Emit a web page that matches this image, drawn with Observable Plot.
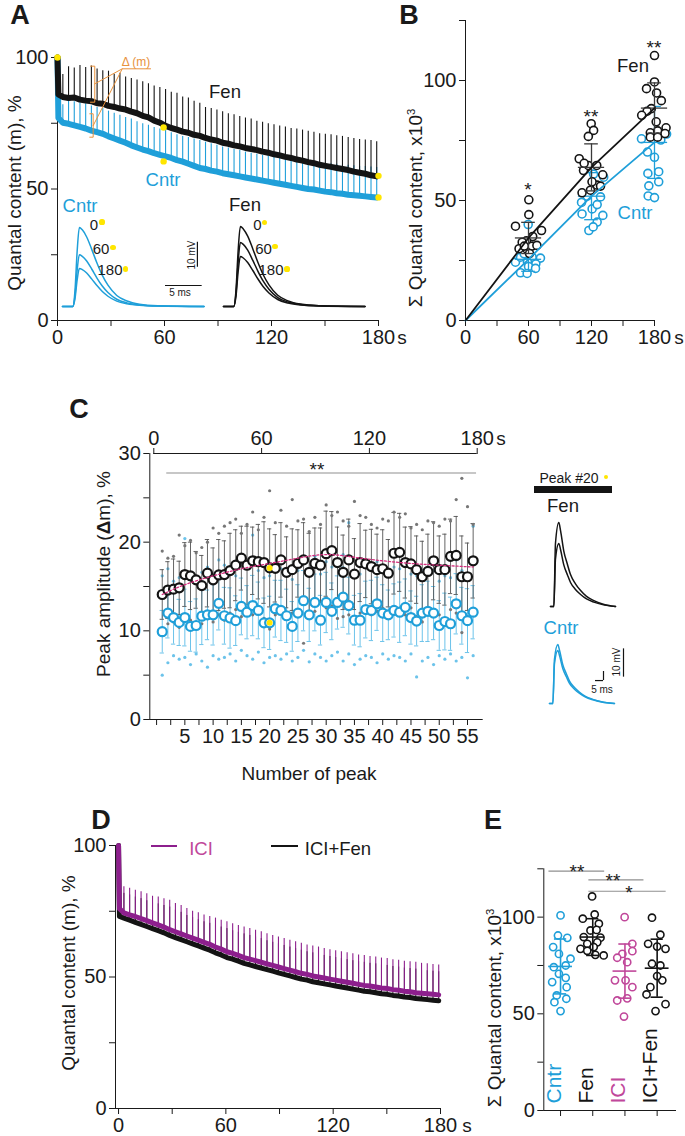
<!DOCTYPE html>
<html>
<head>
<meta charset="utf-8">
<script src="https://cdn.jsdelivr.net/npm/d3@7"></script>
<script src="https://cdn.jsdelivr.net/npm/@observablehq/plot@0.6"></script>
<style>
html,body{margin:0;padding:0;background:#fff;}
#fig{position:relative;width:685px;height:1136px;overflow:hidden;background:#fff;font-family:"Liberation Sans",Arial,Helvetica,sans-serif;color:#1a1a1a;}
#fig svg{overflow:visible;}
.t{position:absolute;white-space:nowrap;line-height:1;}
.t sup{font-size:60%;vertical-align:0.55em;}
</style>
</head>
<body>
<div id="fig"></div>
<script>
// ================= DATA =================
// Panels A and D: stimulation peaks (s) and quantal content (%)
const peakTimes = [3.0,6.2,9.4,12.6,15.8,19.0,22.2,25.4,28.6,31.8,35.0,38.2,41.4,44.6,47.8,51.0,54.2,57.4,60.6,63.8,67.0,70.2,73.4,76.6,79.8,83.0,86.2,89.4,92.6,95.8,99.0,102.2,105.4,108.6,111.8,115.0,118.2,121.4,124.6,127.8,131.0,134.2,137.4,140.6,143.8,147.0,150.2,153.4,156.6,159.8,163.0,166.2,169.4,172.6,175.8,179.0];
const startTimes = [0, 0.5];
const fenStartA = [100, 86];
const cntrStartA = [100, 77];
const fenBaseA = [85.0,84.6,84.8,84.0,83.6,83.4,82.6,82.4,81.6,81.2,80.6,80.2,79.4,78.8,77.8,77.2,76.0,75.2,74.0,73.2,72.6,71.8,71.4,70.6,70.2,69.4,68.8,68.4,67.6,67.2,66.6,66.2,65.6,65.2,64.8,64.2,63.8,63.2,62.8,62.2,61.8,61.2,60.8,60.2,59.8,59.2,58.8,58.4,58.0,57.6,57.2,56.6,56.2,55.8,55.2,54.8];
const fenPeakA = [93.5,96.5,96.0,97.0,96.2,96.8,95.6,95.0,94.8,93.6,94.0,92.6,92.0,91.4,90.8,90.0,89.2,88.6,87.8,86.8,86.4,85.0,84.6,83.4,82.6,81.0,80.6,80.0,79.4,78.6,78.2,77.6,77.0,76.6,75.8,75.4,74.8,74.4,74.0,73.6,73.0,72.8,72.4,72.0,71.6,71.0,70.8,70.6,70.2,70.0,69.6,69.2,68.8,68.6,68.4,68.0];
const cntrBaseA = [75.2,74.8,74.2,73.6,73.0,72.2,71.6,71.0,70.0,69.2,68.4,67.6,66.6,65.8,65.0,64.4,63.6,63.0,62.4,61.8,61.0,60.4,59.6,58.8,58.0,57.6,57.0,56.6,56.0,55.6,55.2,54.8,54.4,54.0,53.6,53.2,52.8,52.4,52.0,51.6,51.2,50.8,50.4,50.0,49.8,49.4,49.0,48.8,48.4,48.2,47.8,47.6,47.4,47.2,47.0,46.8];
const cntrPeakA = [82.0,83.6,83.2,82.8,82.4,81.6,81.0,80.6,79.6,78.8,78.0,77.2,76.6,75.6,74.8,74.2,73.4,72.8,72.2,71.4,70.6,70.0,69.6,69.0,68.4,67.8,67.2,66.6,66.0,65.6,65.0,64.6,64.0,63.6,63.2,62.8,62.6,62.2,61.8,61.4,61.0,60.8,60.6,60.2,60.0,59.8,59.6,59.6,59.4,59.2,59.0,58.8,58.6,58.6,58.4,58.2];
const yellowT = [0, 59.5, 59.5, 180, 180];
const yellowV = [100, 73.4, 60.5, 55.0, 46.8];

// Panel A insets: EPSP shape (ms, fraction of peak) and amplitudes (mV) at 0, 60, 180 s
const waveAms = [0,1.4,1.7,2.0,2.3,2.7,3.3,4.0,4.7,5.4,6.2,7.4,8.8,10.5,13.0,19.3];
const waveAfrac = [0,0,0.2,0.7,1.0,0.97,0.88,0.72,0.55,0.4,0.27,0.14,0.07,0.03,0.01,0];
const cntrInsetAmp = [31.6, 20.7, 15.2];
const fenInsetAmp = [32.0, 25.6, 20.0];
const insetLabels = ["0", "60", "180"];

// Panel B: cumulative quantal content (x10^3)
const bTimes = [0, 60, 120, 180];
const fenMeanB = [0, 34.4, 63.8, 88.5];
const fenSdB = [0, 6.5, 9.8, 10.5];
const cntrMeanB = [0, 25.5, 51.8, 74.2];
const cntrSdB = [0, 5.0, 9.8, 15.0];
const fenBx = [60.3,60.3,47.6,72.4,64.0,58.0,54.0,51.0,58.7,63.4,68.0,61.0,56.0, 119.7,122,117,108.3,112.4,117,125,130.7,111,119,125.4,120.5,128.6,113, 180,180,172.4,182,186.5,177,173,167.8,181.6,191,176,183,190,176,183];
const fenBy = [50.3,44.1,39.3,37.5,35.0,33.2,32.6,29.9,29.6,31.0,31.3,27.9,31.0, 82,79.2,76.7,67.4,62.5,64.6,64.6,60.7,53.2,54.3,56.4,57.8,56.0,65.5, 110.4,99.4,96.6,94.8,91.6,88.3,87.2,85.5,82.8,80.3,78.2,79.0,77.9,76.4,76.4];
const cntrBx = [59.7,47.6,52.4,63.5,71.4,59,67,60,52.4,58.7,66.7,55.9, 111,120.6,130.8,117.5,125.4,121.6,116,110.5,125.4,128.6,122,131.6, 167.6,173.3,180,191.5,186,173.7,184,174.6,184,174,180];
const cntrBy = [40,24.3,26.4,26.4,26.0,24.3,23.6,22.5,19.9,19.6,21.7,27.8, 44.4,46.5,43.8,37.5,41,39,51.8,49.2,48.3,51.5,61,59.7, 75.7,70.2,68,77.7,75.2,61.3,62,56.1,57.8,51.9,51.2];

// Panel C: peak amplitude (Δm, %) per peak number
const fenMeanC = [14.1,14.6,14.7,14.85,16.35,16.2,15.75,15.1,16.5,15.75,16.3,16.35,16.8,17.4,18.2,17.4,17.9,17.8,17.7,17.1,17.05,18.0,16.6,16.9,17.6,18.0,16.6,17.6,17.4,18.7,19.05,17.7,16.6,18.0,16.4,17.7,17.55,17.25,16.9,17.0,16.5,18.75,18.85,17.7,17.55,16.9,16.1,16.7,17.9,16.9,16.9,18.4,18.5,16.1,16.1,17.9];
const cntrMeanC = [9.9,12.0,11.5,10.95,11.5,10.5,10.6,11.65,11.8,11.8,13.1,11.7,11.45,11.15,12.75,12.1,12.85,12.3,10.9,10.9,12.5,12.3,11.7,10.5,12.0,13.4,11.8,13.2,11.2,13.2,12.2,13.2,13.8,12.85,11.2,11.2,12.4,12.3,13.05,12.0,11.8,12.3,12.1,12.65,11.5,11.1,12.0,12.2,12.0,10.6,11.05,10.8,13.05,11.7,11.15,12.1];
const fenSdC = [2.8,3.2,3.4,3.0,3.6,3.8,3.2,3.4,3.8,3.6,4.0,3.8,4.2,4.0,3.6,4.4,3.8,4.2,4.6,4.4,3.8,4.2,4.0,4.6,3.8,4.2,4.4,4.0,4.2,4.8,4.4,4.0,4.2,4.6,4.0,4.4,3.8,4.2,4.0,4.4,3.8,4.6,4.4,4.0,4.2,3.8,4.0,4.2,4.4,3.8,4.0,4.2,4.4,4.6,3.8,4.2];
const cntrSdC = [2.4,2.8,3.0,2.6,3.2,2.8,3.0,3.2,2.8,3.4,3.0,3.2,3.4,2.8,3.2,3.0,3.4,3.2,2.8,3.0,3.2,3.4,3.0,2.8,3.2,3.4,3.0,3.2,2.8,3.4,3.2,3.0,3.4,3.2,2.8,3.0,3.2,3.4,3.0,3.2,2.8,3.0,3.4,3.2,3.0,2.8,3.2,3.4,3.0,2.8,3.2,3.0,3.4,3.2,3.6,3.0];
const fenHiC = [19.0,18.2,18.4,20.8,19.6,20.2,18.8,19.4,20.0,21.6,21.0,21.8,22.2,22.6,21.0,22.0,23.4,21.4,22.8,25.8,22.2,23.6,21.8,24.8,22.4,22.6,21.2,22.8,22.0,24.2,23.0,23.4,22.4,21.8,24.6,23.0,22.8,22.0,21.6,22.6,22.4,23.4,22.8,23.2,21.6,22.0,21.4,22.4,22.2,21.8,22.6,22.4,24.8,27.2,24.0,22.0];
const fenLoC = [10.2,10.8,11.0,10.4,11.6,11.2,10.6,10.8,11.4,11.0,11.8,11.2,12.0,12.4,11.6,12.2,11.8,12.6,11.4,10.2,11.8,12.2,11.6,12.0,12.4,8.6,11.8,12.2,11.0,12.6,12.8,11.4,11.6,11.8,11.0,12.0,12.4,11.8,12.2,11.6,11.4,12.6,12.2,11.8,12.6,11.6,11.0,12.0,12.4,11.8,11.2,12.4,12.0,9.8,11.6,12.2];
const cntrHiC = [16.2,17.0,15.6,16.0,20.4,16.4,15.8,16.6,17.2,16.0,18.0,17.4,16.8,16.2,17.6,17.0,20.8,16.8,16.0,16.2,17.6,17.0,16.6,15.8,16.8,18.2,17.0,18.4,16.4,17.8,17.2,18.0,18.6,22.2,16.6,16.4,17.4,17.0,17.8,16.8,16.6,17.2,17.0,17.6,16.4,16.2,16.8,17.2,16.8,15.6,16.2,16.0,18.0,16.8,16.2,21.8];
const cntrLoC = [5.0,6.4,7.2,6.8,7.0,6.2,7.4,6.6,5.9,7.2,6.8,7.0,7.4,6.6,7.8,7.2,6.8,7.6,6.4,7.0,7.2,6.8,7.4,6.6,7.0,7.8,6.5,7.4,7.0,6.6,7.2,7.6,6.6,7.4,6.2,6.8,7.2,7.0,6.4,7.4,6.8,7.2,7.0,6.6,7.4,4.8,6.6,7.0,6.2,7.2,6.8,7.4,6.6,7.0,4.7,7.2];
const trendPeak = [1,5,10,15,20,25,30,35,40,45,50,56];
const trendFen = [14.1,15.2,16.2,17.0,17.6,18.2,18.6,18.3,17.9,17.6,17.4,17.2];
const highlightPeak = 20;
// Panel C inset (peak #20)
const waveCms = [0,2.1,3.1,5.2,6.3,8.3,10.6,12.5,15.6,18.8,22.5,27.1,32.5,40.6];
const waveCfrac = [0,0,0.75,1.0,0.9,0.66,0.5,0.38,0.27,0.19,0.12,0.07,0.03,0];
const fenAmpC = [29.7, 22.3];
const cntrAmpC = [20.8, 18.7];

// Panel D
const iciBase = [74.4,73.6,73.0,72.2,71.4,70.6,69.8,69.0,68.0,67.2,66.4,65.6,64.8,64.0,63.2,62.4,61.4,60.6,59.6,59.0,58.2,57.4,56.8,56.2,55.6,55.0,54.4,53.8,53.2,52.6,52.0,51.4,51.0,50.4,50.0,49.6,49.2,48.8,48.4,48.0,47.6,47.2,46.8,46.6,46.2,45.8,45.6,45.2,45.0,44.6,44.4,44.0,43.8,43.6,43.4,43.2];
const iciPeak = [84.3,83.7,83.0,82.4,81.7,80.7,80.4,79.8,79.2,77.9,77.2,76.0,75.0,74.4,73.6,73.0,72.4,71.6,71.0,70.2,69.6,69.0,68.4,67.8,67.2,66.4,65.8,65.2,64.6,64.0,63.4,62.8,62.2,61.8,61.4,60.8,60.4,60.0,59.6,59.2,58.8,58.4,58.2,57.8,57.6,57.2,57.0,56.6,56.4,56.0,55.8,55.6,55.2,55.0,54.8,54.6];
const iciFenBase = [72.4,71.6,70.8,70.0,69.2,68.4,67.6,66.8,65.8,65.0,64.2,63.4,62.6,61.8,61.0,60.2,59.2,58.4,57.4,56.8,56.0,55.2,54.6,54.0,53.4,52.8,52.2,51.6,51.0,50.4,49.8,49.2,48.8,48.2,47.8,47.4,47.0,46.6,46.2,45.8,45.4,45.0,44.6,44.4,44.0,43.6,43.4,43.0,42.8,42.4,42.2,41.8,41.6,41.4,41.2,41.0];
const iciFenPeak = [81.8,81.2,80.4,79.8,79.0,78.2,77.8,77.2,76.6,75.4,74.6,73.4,72.6,71.8,71.0,70.4,69.8,69.0,68.4,67.6,67.0,66.4,65.8,65.2,64.6,63.8,63.2,62.6,62.0,61.4,60.8,60.2,59.6,59.2,58.8,58.2,57.8,57.4,57.0,56.6,56.2,55.8,55.6,55.2,55.0,54.6,54.4,54.0,53.8,53.4,53.2,53.0,52.6,52.4,52.2,52.0];
const iciStart = [100, 76];
const iciFenStart = [100, 73];

// Panel E
const eCats = ["Cntr", "Fen", "ICI", "ICI+Fen"];
const eMean = [74.5, 89.7, 72.1, 73.6];
const eSd = [14.2, 9.5, 14.0, 15.0];
const eCntrVals = [100.9,90.5,89.3,84.5,81.0,78.5,75.0,74.1,70.7,68.6,66.4,63.8,59.5,57.8,56.0,51.4];
const eCntrJit  = [0,-0.08,0.21,-0.23,-0.05,0.31,0.16,-0.21,-0.05,0.16,-0.26,0.19,-0.12,0.18,-0.19,0];
const eFenVals = [110.7,99.2,101.4,96.6,93.1,93.4,89.7,89.4,86.2,87.0,83.6,84.5,80.2,82.6,80.5];
const eFenJit  = [-0.02,-0.31,0.06,0.19,-0.07,0.12,-0.28,0.24,-0.17,0.14,-0.38,0.03,0.34,-0.17,0.08];
const eIciVals = [100,86.2,82.4,81.0,76.7,67.3,67.3,63.8,56.9,58.0,48.6,79.0];
const eIciJit  = [-0.01,0.23,0.23,-0.08,0.07,-0.31,0.02,0.23,-0.24,0.07,-0.03,-0.24];
const eIciFenVals = [99.7,90.9,86.2,84.8,83.6,75.9,75.0,67.3,63.8,60.0,51.4,55.0,69.5];
const eIciFenJit  = [-0.16,0.10,-0.28,0.0,0.26,-0.16,0.1,0.16,-0.21,-0.33,-0.05,0.26,0.0];

// Tick values
const timeTicks = [0,30,60,90,120,150,180];
const pctTicks = [0,25,50,75,100];
const sumTicks = [0,25,50,75,100,125];
const ampTicks = [0,5,10,15,20,25,30];
const peakTicks = [0,2.5,5,7.5,10,12.5,15,17.5,20,22.5,25,27.5,30,32.5,35,37.5,40,42.5,45,47.5,50,52.5,55];

// ================= STYLE =================
const FONT = '"Liberation Sans", Arial, Helvetica, sans-serif';
const BLUE = "#1f9fd9";
const BLUE_LIGHT = "#6cc3ea";
const BLACK = "#141414";
const YELLOW = "#ffe600";
const ORANGE = "#e8923c";
const PURPLE = "#8d1f8d";
const ICI_PINK = "#c0479a";
const MAGENTA = "#d4307f";
const SIG = "#8f8f8f";
const baseStyle = {fontFamily: FONT, fontSize: "20px", color: "#1a1a1a", background: "transparent", overflow: "visible"};

const fig = document.getElementById("fig");
function place(node, left, top) {
  node.style.position = "absolute";
  node.style.left = left + "px";
  node.style.top = top + "px";
  fig.appendChild(node);
  return node;
}
function txt(html, x, y, o = {}) {
  const d = document.createElement("div");
  d.className = "t";
  d.innerHTML = html;
  d.style.left = x + "px";
  d.style.top = y + "px";
  d.style.fontSize = (o.size || 19) + "px";
  d.style.color = o.color || "#1a1a1a";
  if (o.lh) d.style.lineHeight = o.lh;
  if (o.bold) d.style.fontWeight = "bold";
  d.style.transform = "translate(-50%,-50%)" + (o.rot ? " rotate(" + o.rot + "deg)" : "");
  fig.appendChild(d);
}
// asterisks: compact line box so stacked significance marks do not collide
function star(s, x, y) { txt(s, x, y, {size: 19, lh: 0.5}); }
function ydot(x, y, r = 2.6) {
  const d = document.createElement("div");
  d.style.cssText = `position:absolute;left:${x - r}px;top:${y - r}px;width:${2*r}px;height:${2*r}px;border-radius:50%;background:${YELLOW};`;
  fig.appendChild(d);
}
function hbar(x, y, w, h, color) {
  const d = document.createElement("div");
  d.style.cssText = `position:absolute;left:${x}px;top:${y}px;width:${w}px;height:${h}px;background:${color};`;
  fig.appendChild(d);
}
const every60 = d => (d % 60 === 0 ? String(d) : "");
const every50 = d => (d % 50 === 0 ? String(d) : "");
const every10 = d => (d % 10 === 0 ? String(d) : "");
const every5 = d => (d > 0 && d % 5 === 0 ? String(d) : "");

function traceRows(startV, base) {
  return startTimes.map((t, i) => ({t, v: startV[i]})).concat(peakTimes.map((t, i) => ({t, v: base[i]})));
}
function spikeRows(base, peak) {
  return peakTimes.map((t, i) => ({t, base: base[i], peak: peak[i]}));
}
function wavePlot({ms, frac, amps, color, width, height, mL, mR, mT, mB, xMax, yMax, extra = []}) {
  const rows = amps.flatMap((a, k) => ms.map((m, i) => ({k, ms: m, mv: a * frac[i]})));
  return Plot.plot({
    width, height, marginLeft: mL, marginRight: mR, marginTop: mT, marginBottom: mB,
    style: baseStyle,
    x: {domain: [0, xMax], axis: null},
    y: {domain: [0, yMax], axis: null},
    marks: [Plot.line(rows, {x: "ms", y: "mv", z: "k", stroke: color, strokeWidth: 1.5, curve: "monotone-x"}), ...extra]
  });
}

// ================= PANEL A =================
const deltaAnno = [
  {id: 1, t: 18.5, v: 96.7}, {id: 1, t: 20.9, v: 96.7}, {id: 1, t: 20.9, v: 83.0}, {id: 1, t: 18.5, v: 83.0},
  {id: 2, t: 18.1, v: 78.6}, {id: 2, t: 20.0, v: 78.6}, {id: 2, t: 20.0, v: 69.7}, {id: 2, t: 18.1, v: 69.7},
  {id: 3, t: 52.2, v: 95.7}, {id: 3, t: 36.3, v: 95.7}, {id: 3, t: 20.9, v: 90.0},
  {id: 4, t: 36.3, v: 95.7}, {id: 4, t: 20.0, v: 74.1}
];
const plotA = Plot.plot({
  width: 400, height: 345, marginLeft: 57, marginRight: 22, marginTop: 57, marginBottom: 25,
  style: baseStyle,
  x: {domain: [0, 180], ticks: timeTicks, tickFormat: every60, label: null, line: true},
  y: {domain: [0, 100], ticks: pctTicks, tickFormat: every50, label: null, line: true},
  marks: [
    Plot.line(traceRows(cntrStartA, cntrBaseA), {x: "t", y: "v", stroke: BLUE, strokeWidth: 6, strokeLinejoin: "round"}),
    Plot.ruleX(spikeRows(cntrBaseA, cntrPeakA), {x: "t", y1: "base", y2: "peak", stroke: BLUE, strokeWidth: 1.1}),
    Plot.line(traceRows(fenStartA, fenBaseA), {x: "t", y: "v", stroke: BLACK, strokeWidth: 6, strokeLinejoin: "round"}),
    Plot.ruleX(spikeRows(fenBaseA, fenPeakA), {x: "t", y1: "base", y2: "peak", stroke: BLACK, strokeWidth: 1.1}),
    Plot.line(deltaAnno, {x: "t", y: "v", z: "id", stroke: ORANGE, strokeWidth: 1}),
    Plot.dot(yellowT.map((t, i) => ({t, v: yellowV[i]})), {x: "t", y: "v", r: 3.2, fill: YELLOW})
  ]
});
place(plotA, 0, 0);

const scaleBarA = [
  Plot.ruleX([{x: 18.4, y1: 15.7, y2: 25.7}], {x: "x", y1: "y1", y2: "y2", stroke: BLACK, strokeWidth: 1.2}),
  Plot.ruleY([{y: 8.4, x1: 14.05, x2: 19.05}], {y: "y", x1: "x1", x2: "x2", stroke: BLACK, strokeWidth: 1.2})
];
place(wavePlot({ms: waveAms, frac: waveAfrac, amps: cntrInsetAmp, color: BLUE, width: 150, height: 112, mL: 2, mR: 6.5, mT: 6, mB: 6, xMax: 19.3, yMax: 40, extra: scaleBarA}), 60, 200);
place(wavePlot({ms: waveAms, frac: waveAfrac, amps: fenInsetAmp, color: BLACK, width: 150, height: 112, mL: 2, mR: 6.5, mT: 6, mB: 6, xMax: 19.3, yMax: 40}), 221, 200);

txt("A", 20, 15, {size: 27, bold: true});
txt("Quantal content (m), %", 14, 193, {rot: -90});
txt("s", 402, 337, {size: 19});
txt("Fen", 225, 92, {size: 18.5});
txt("Cntr", 163, 180, {size: 18.5, color: BLUE});
txt("Δ (m)", 136, 62, {size: 12, color: ORANGE});
txt("Cntr", 80, 206, {size: 18.5, color: BLUE});
txt("Fen", 245, 205, {size: 18.5});
[[94, 224, 102, 222], [101, 248, 113, 247.5], [110, 269, 125.5, 269]].forEach((p, i) => { txt(insetLabels[i], p[0], p[1], {size: 15}); ydot(p[2], p[3]); });
[[257.5, 224, 264.5, 222.5], [263.5, 248, 275, 246.5], [271, 269, 287, 269]].forEach((p, i) => { txt(insetLabels[i], p[0], p[1], {size: 15}); ydot(p[2], p[3]); });
txt("10 mV", 191.5, 254.5, {size: 10, rot: -90});
txt("5 ms", 180, 293, {size: 10});

// ================= PANEL B =================
const bFen = fenBx.map((x, i) => ({x, y: fenBy[i]}));
const bCntr = cntrBx.map((x, i) => ({x, y: cntrBy[i]}));
const bFenM = bTimes.map((t, i) => ({t, m: fenMeanB[i], s: fenSdB[i]}));
const bCntrM = bTimes.map((t, i) => ({t, m: cntrMeanB[i], s: cntrSdB[i]}));
function errMarks(rows, color, capHalf, meanHalf, w) {
  const r = rows.filter(d => d.t > 0 || rows.length === 1);
  return [
    Plot.ruleX(r, {x: "t", y1: d => d.m - d.s, y2: d => d.m + d.s, stroke: color, strokeWidth: w}),
    Plot.ruleY(r, {y: d => d.m + d.s, x1: d => d.t - capHalf, x2: d => d.t + capHalf, stroke: color, strokeWidth: w}),
    Plot.ruleY(r, {y: d => d.m - d.s, x1: d => d.t - capHalf, x2: d => d.t + capHalf, stroke: color, strokeWidth: w}),
    Plot.ruleY(r, {y: "m", x1: d => d.t - meanHalf, x2: d => d.t + meanHalf, stroke: color, strokeWidth: w})
  ];
}
const plotB = Plot.plot({
  width: 285, height: 345, marginLeft: 65, marginRight: 31, marginTop: 20, marginBottom: 25,
  style: baseStyle,
  x: {domain: [0, 180], ticks: timeTicks, tickFormat: every60, label: null, line: true},
  y: {domain: [0, 125], ticks: sumTicks, tickFormat: every50, label: null, line: true},
  marks: [
    Plot.dot(bCntr, {x: "x", y: "y", r: 4, stroke: BLUE, strokeWidth: 1.6, fill: "white"}),
    ...errMarks(bCntrM, BLUE, 6.5, 12.5, 1.3),
    Plot.dot(bFen, {x: "x", y: "y", r: 4, stroke: BLACK, strokeWidth: 1.6, fill: "white"}),
    ...errMarks(bFenM, "#3a3a3a", 6.5, 12.5, 1.3),
    Plot.line(bCntrM, {x: "t", y: "m", stroke: BLUE, strokeWidth: 1.8}),
    Plot.line(bFenM, {x: "t", y: "m", stroke: BLACK, strokeWidth: 1.8})
  ]
});
place(plotB, 400, 0);
txt("B", 409, 15, {size: 27, bold: true});
txt("Σ Quantal content, x10<sup>3</sup>", 415, 208, {rot: -90});
txt("s", 679, 337, {size: 19});
star("*", 528, 190);
star("**", 591, 117);
star("**", 654, 48);
txt("Fen", 633, 66, {size: 18.5});
txt("Cntr", 635, 213, {size: 18.5, color: BLUE});

// ================= PANEL C =================
const cRows = fenMeanC.map((m, i) => ({
  n: i + 1, fm: m, fs: fenSdC[i], cm: cntrMeanC[i], cs: cntrSdC[i],
  fh: fenHiC[i], fl: fenLoC[i], ch: cntrHiC[i], cl: cntrLoC[i]
}));
const cap = 0.38;
const plotC = Plot.plot({
  width: 420, height: 340, marginLeft: 69.3, marginRight: 18.3, marginTop: 13, marginBottom: 61,
  style: baseStyle,
  x: {domain: [-1.2, 57.6], ticks: peakTicks, tickFormat: every5, label: null, line: true},
  y: {domain: [0, 30], ticks: ampTicks, tickFormat: every10, label: null, line: true},
  marks: [
    Plot.ruleX(cRows, {x: "n", y1: d => d.cm - d.cs, y2: d => d.cm + d.cs, stroke: BLUE_LIGHT, strokeWidth: 1}),
    Plot.ruleY(cRows, {y: d => d.cm + d.cs, x1: d => d.n - cap, x2: d => d.n + cap, stroke: BLUE_LIGHT, strokeWidth: 1}),
    Plot.ruleY(cRows, {y: d => d.cm - d.cs, x1: d => d.n - cap, x2: d => d.n + cap, stroke: BLUE_LIGHT, strokeWidth: 1}),
    Plot.dot(cRows, {x: "n", y: "ch", r: 1.6, fill: BLUE_LIGHT}),
    Plot.dot(cRows, {x: "n", y: "cl", r: 1.6, fill: BLUE_LIGHT}),
    Plot.ruleX(cRows, {x: "n", y1: d => d.fm - d.fs, y2: d => d.fm + d.fs, stroke: "#555", strokeWidth: 0.9}),
    Plot.ruleY(cRows, {y: d => d.fm + d.fs, x1: d => d.n - cap, x2: d => d.n + cap, stroke: "#555", strokeWidth: 0.9}),
    Plot.ruleY(cRows, {y: d => d.fm - d.fs, x1: d => d.n - cap, x2: d => d.n + cap, stroke: "#555", strokeWidth: 0.9}),
    Plot.dot(cRows, {x: "n", y: "fh", r: 1.6, fill: "#777"}),
    Plot.dot(cRows, {x: "n", y: "fl", r: 1.6, fill: "#777"}),
    Plot.dot(cRows, {x: "n", y: "cm", r: 4.5, stroke: BLUE, strokeWidth: 2.2, fill: "white"}),
    Plot.dot(cRows, {x: "n", y: "fm", r: 4.5, stroke: BLACK, strokeWidth: 2.2, fill: "white"}),
    Plot.line(trendPeak.map((n, i) => ({n, v: trendFen[i]})), {x: "n", y: "v", stroke: MAGENTA, strokeWidth: 1.3, strokeDasharray: "2,2", curve: "natural"}),
    Plot.dot(cRows.filter(d => d.n === highlightPeak), {x: "n", y: "fm", r: 3, fill: YELLOW}),
    Plot.dot(cRows.filter(d => d.n === highlightPeak), {x: "n", y: "cm", r: 3, fill: YELLOW}),
    Plot.ruleY([{y: 27.8, x1: 1.8, x2: 56.6}], {y: "y", x1: "x1", x2: "x2", stroke: SIG, strokeWidth: 1})
  ]
});
place(plotC, 80, 440);
const topAxis = Plot.plot({
  width: 420, height: 60, marginLeft: 73.3, marginRight: 23.3, marginTop: 33, marginBottom: 20,
  style: baseStyle,
  x: {domain: [0, 180], axis: "top", ticks: [0, 60, 120, 180], label: null},
  y: {domain: [0, 1], axis: null},
  marks: [Plot.ruleY([{y: 1, x1: 0, x2: 180}], {y: "y", x1: "x1", x2: "x2", stroke: "#1a1a1a", strokeWidth: 1})]
});
place(topAxis, 80, 420);
txt("C", 79, 409, {size: 27, bold: true});
txt("s", 501, 438, {size: 19});
star("**", 317, 470);
txt("Peak amplitude (<b>Δ</b>m), %", 103, 574, {rot: -90});
txt("Number of peak", 309, 773, {size: 19});
// inset
txt("Peak #20", 569, 478, {size: 14});
ydot(606, 477, 2.3);
hbar(534, 486, 78, 7, BLACK);
txt("Fen", 563, 506, {size: 18.5});
txt("Cntr", 561, 628, {size: 18.5, color: BLUE});
place(wavePlot({ms: waveCms, frac: waveCfrac, amps: fenAmpC, color: BLACK, width: 75, height: 95, mL: 2, mR: 8, mT: 6.1, mB: 4, xMax: 40.6, yMax: 30}), 548, 515);
const scaleBarC = [
  Plot.ruleX([{x: 46.25, y1: 9.3, y2: 19.3}], {x: "x", y1: "y1", y2: "y2", stroke: BLACK, strokeWidth: 1.2}),
  Plot.ruleY([{y: 8.1, x1: 28.75, x2: 33.75}], {y: "y", x1: "x1", x2: "x2", stroke: BLACK, strokeWidth: 1.2}),
  Plot.ruleX([{x: 33.75, y1: 8.1, y2: 11.3}], {x: "x", y1: "y1", y2: "y2", stroke: BLACK, strokeWidth: 1.2})
];
place(wavePlot({ms: waveCms, frac: waveCfrac, amps: cntrAmpC, color: BLUE, width: 90, height: 75, mL: 2, mR: 0, mT: 5.7, mB: 7, xMax: 55, yMax: 22, extra: scaleBarC}), 547, 635);
txt("10 mV", 617, 662, {size: 10, rot: -90});
txt("5 ms", 602, 690, {size: 10});

// ================= PANEL D =================
const plotD = Plot.plot({
  width: 400, height: 296, marginLeft: 55, marginRight: 20, marginTop: 5, marginBottom: 28,
  style: baseStyle,
  x: {domain: [-1.7, 180], ticks: timeTicks, tickFormat: every60, label: null, line: true},
  y: {domain: [0, 100], ticks: pctTicks, tickFormat: every50, label: null, line: true},
  marks: [
    Plot.line(traceRows(iciFenStart, iciFenBase), {x: "t", y: "v", stroke: BLACK, strokeWidth: 5, strokeLinejoin: "round"}),
    Plot.ruleX(spikeRows(iciFenBase, iciFenPeak), {x: "t", y1: "base", y2: "peak", stroke: BLACK, strokeWidth: 1}),
    Plot.line(traceRows(iciStart, iciBase), {x: "t", y: "v", stroke: PURPLE, strokeWidth: 5, strokeLinejoin: "round"}),
    Plot.ruleX(spikeRows(iciBase, iciPeak), {x: "t", y1: "base", y2: "peak", stroke: PURPLE, strokeWidth: 1.1})
  ]
});
place(plotD, 60, 840);
txt("D", 101, 820, {size: 27, bold: true});
txt("Quantal content (m), %", 68, 973, {rot: -90});
txt("s", 467, 1125, {size: 19});
hbar(151, 845, 26, 2, PURPLE);
txt("ICI", 201, 849, {size: 18.5, color: ICI_PINK});
hbar(271, 845, 27, 2, BLACK);
txt("ICI+Fen", 338, 849, {size: 18.5});

// ================= PANEL E =================
const eGroups = [
  {vals: eCntrVals, jit: eCntrJit, color: BLUE},
  {vals: eFenVals, jit: eFenJit, color: BLACK},
  {vals: eIciVals, jit: eIciJit, color: ICI_PINK},
  {vals: eIciFenVals, jit: eIciFenJit, color: BLACK}
];
const eMarks = [];
eGroups.forEach((g, i) => {
  const pts = g.vals.map((v, k) => ({x: i + g.jit[k], v}));
  eMarks.push(Plot.dot(pts, {x: "x", y: "v", r: 3.6, stroke: g.color, strokeWidth: 1.6, fill: "white"}));
  eMarks.push(...errMarks([{t: i, m: eMean[i], s: eSd[i]}], g.color, 0.19, 0.37, 1.6));
  eMarks.push(Plot.text([eCats[i]], {x: () => i, text: d => d, frameAnchor: "bottom", dy: -7, rotate: -90, textAnchor: "start", fill: g.color, fontSize: 21}));
});
const eSig = [{y: 123.8, x1: -0.36, x2: 1.37}, {y: 119.3, x1: 0.88, x2: 2.59}, {y: 113.4, x1: 0.88, x2: 3.28}];
const plotE = Plot.plot({
  width: 205, height: 296, marginLeft: 63.3, marginRight: 10, marginTop: 28.3, marginBottom: 26,
  style: baseStyle,
  x: {domain: [-0.52, 3.57], ticks: [0, 1, 2, 3], tickFormat: () => "", label: null, line: true},
  y: {domain: [0, 125], ticks: sumTicks, tickFormat: every50, label: null, line: true},
  marks: [
    ...eMarks,
    Plot.ruleY(eSig, {y: "y", x1: "x1", x2: "x2", stroke: SIG, strokeWidth: 1.2})
  ]
});
place(plotE, 480, 840);
txt("E", 493, 820, {size: 27, bold: true});
txt("Σ Quantal content, x10<sup>3</sup>", 494, 1008, {rot: -90});
star("**", 577, 872);
star("**", 613, 881);
star("*", 629, 893);
</script>
</body>
</html>
